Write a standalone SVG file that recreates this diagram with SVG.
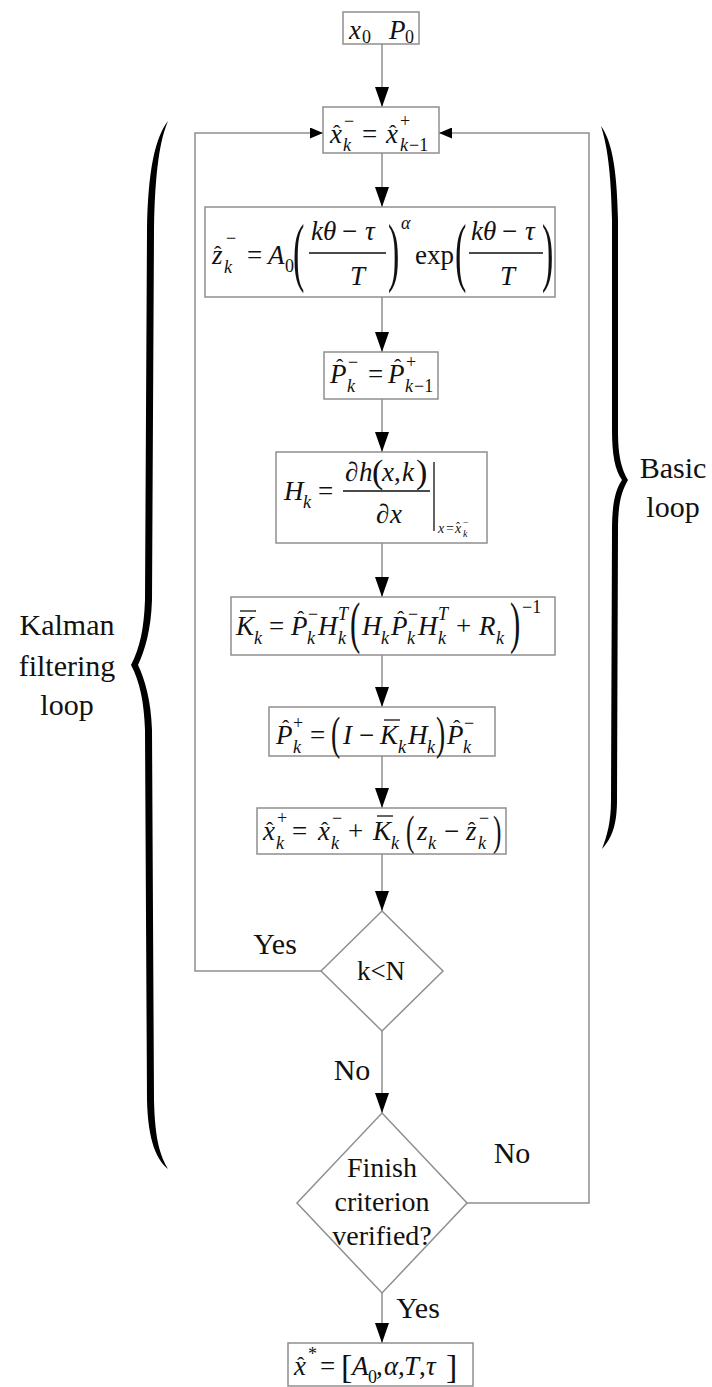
<svg xmlns="http://www.w3.org/2000/svg" width="712" height="1387" viewBox="0 0 712 1387" font-family="'Liberation Serif', 'DejaVu Serif', serif">
<defs>
<style>
.b{fill:#fff;stroke:#8f8f8f;stroke-width:1.5}
.c{fill:none;stroke:#8f8f8f;stroke-width:1.5}
.t{font-family:"Liberation Serif","Times New Roman","DejaVu Serif",serif;fill:#111}
.e{font-size:27px}
.i{font-style:italic}
.s{font-size:18px}
.ss{font-size:14px}
.h{font-size:22px}
.l{font-size:30px}
.ob{stroke:#111;stroke-width:1.3}
.br{fill:#000}
</style>
<marker id="av" viewBox="0 0 20 14" markerWidth="20" markerHeight="14" refX="20" refY="7" orient="auto" markerUnits="userSpaceOnUse"><path d="M0,0L20,7L0,14Z" fill="#000"/></marker>
<marker id="ah" viewBox="0 0 13 11" markerWidth="13" markerHeight="11" refX="13" refY="5.5" orient="auto" markerUnits="userSpaceOnUse"><path d="M0,0L13,5.5L0,11Z" fill="#000"/></marker>
</defs>
<rect width="712" height="1387" fill="#fff"/>

<g id="connectors" class="c">
<path d="M382,44V107" marker-end="url(#av)"/>
<path d="M382,153V207" marker-end="url(#av)"/>
<path d="M382,297V352" marker-end="url(#av)"/>
<path d="M382,399V452" marker-end="url(#av)"/>
<path d="M382,543V597" marker-end="url(#av)"/>
<path d="M382,655V707" marker-end="url(#av)"/>
<path d="M382,756V808" marker-end="url(#av)"/>
<path d="M382,854V911" marker-end="url(#av)"/>
<path d="M382,1031V1113" marker-end="url(#av)"/>
<path d="M382,1293V1343" marker-end="url(#av)"/>
<path d="M321,971H195V133H323" marker-end="url(#ah)"/>
<path d="M467,1203H589V133H439" marker-end="url(#ah)"/>
</g>

<g id="n-init">
<rect class="b" x="343" y="12" width="76" height="32"/>
<text class="t e"><tspan class="i" x="349" y="39">x</tspan><tspan class="s" x="362" y="43">0</tspan><tspan class="i" x="389" y="39">P</tspan><tspan class="s" x="405" y="43">0</tspan></text>
</g>

<g id="n-xpred">
<rect class="b" x="323" y="107" width="116" height="46"/>
<text class="t e"><tspan class="i" x="330" y="143">x</tspan><tspan class="h" x="333" y="140">ˆ</tspan><tspan class="s" x="344" y="127">−</tspan><tspan class="s i" x="343" y="151">k</tspan><tspan x="362" y="143">=</tspan><tspan class="i" x="386" y="143">x</tspan><tspan class="h" x="389" y="140">ˆ</tspan><tspan class="s" x="400" y="127">+</tspan><tspan class="s i" x="400" y="151">k</tspan><tspan class="s" x="409" y="151">−1</tspan></text>
</g>

<g id="n-zpred">
<rect class="b" x="205" y="207" width="350" height="90"/>
<text class="t e"><tspan class="i" x="212" y="264">z</tspan><tspan class="h" x="214" y="261">ˆ</tspan><tspan class="s" x="226" y="244">−</tspan><tspan class="s i" x="224" y="273">k</tspan><tspan x="247" y="264">=</tspan><tspan class="i" x="268" y="264">A</tspan><tspan class="s" x="285" y="272">0</tspan><tspan class="i" x="311" y="240">kθ</tspan><tspan x="342" y="240">−</tspan><tspan class="i" x="365" y="240">τ</tspan><tspan class="i" x="350" y="285">T</tspan><tspan class="s i" x="401" y="229">α</tspan><tspan x="415" y="264">exp</tspan><tspan class="i" x="471" y="240">kθ</tspan><tspan x="502" y="240">−</tspan><tspan class="i" x="525" y="240">τ</tspan><tspan class="i" x="500" y="285">T</tspan></text>
<text class="t" font-size="76" transform="translate(293,277) scale(0.45,1)">(</text>
<text class="t" font-size="76" transform="translate(388,277) scale(0.45,1)">)</text>
<text class="t" font-size="76" transform="translate(455,277) scale(0.45,1)">(</text>
<text class="t" font-size="76" transform="translate(542,277) scale(0.45,1)">)</text>
<path class="ob" d="M309,253H386M469,253H543"/>
</g>

<g id="n-ppred">
<rect class="b" x="324" y="352" width="114" height="47"/>
<text class="t e"><tspan class="i" x="330" y="383">P</tspan><tspan class="h" x="336" y="374">ˆ</tspan><tspan class="s" x="348" y="368">−</tspan><tspan class="s i" x="347" y="392">k</tspan><tspan x="368" y="383">=</tspan><tspan class="i" x="388" y="383">P</tspan><tspan class="h" x="394" y="374">ˆ</tspan><tspan class="s" x="406" y="368">+</tspan><tspan class="s i" x="405" y="392">k</tspan><tspan class="s" x="414" y="392">−1</tspan></text>
</g>

<g id="n-H">
<rect class="b" x="276" y="452" width="211" height="91"/>
<text class="t e"><tspan class="i" x="284" y="500">H</tspan><tspan class="s i" x="303" y="508">k</tspan><tspan x="318" y="500">=</tspan><tspan x="345" y="481">∂</tspan><tspan class="i" x="359" y="481">h</tspan><tspan x="382" y="481" class="i">x</tspan><tspan x="394" y="481">,</tspan><tspan class="i" x="402" y="481">k</tspan><tspan x="376" y="523">∂</tspan><tspan class="i" x="390" y="523">x</tspan></text>
<text class="t" font-size="34"><tspan x="372" y="483">(</tspan><tspan x="416" y="483">)</tspan></text>
<path class="ob" d="M343,491H430M434,462V531"/>
<text class="t ss"><tspan class="i" x="438" y="533">x</tspan><tspan x="446" y="533">=</tspan><tspan class="i" x="455" y="533">x</tspan><tspan font-size="12" x="456" y="531">ˆ</tspan><tspan class="i" font-size="10" x="463" y="537">k</tspan><tspan font-size="10" x="463" y="526">−</tspan></text>
</g>

<g id="n-K">
<rect class="b" x="231" y="597" width="324" height="58"/>
<text class="t e"><tspan class="i" x="236" y="635">K</tspan><tspan class="s i" x="254" y="644">k</tspan><tspan x="269" y="635">=</tspan><tspan class="i" x="291" y="635">P</tspan><tspan class="h" x="297" y="626">ˆ</tspan><tspan class="s" x="308" y="620">−</tspan><tspan class="s i" x="307" y="644">k</tspan><tspan class="i" x="318" y="635">H</tspan><tspan class="s i" x="338" y="620">T</tspan><tspan class="s i" x="338" y="644">k</tspan><tspan class="i" x="362" y="635">H</tspan><tspan class="s i" x="381" y="644">k</tspan><tspan class="i" x="391" y="635">P</tspan><tspan class="h" x="397" y="626">ˆ</tspan><tspan class="s" x="408" y="620">−</tspan><tspan class="s i" x="407" y="644">k</tspan><tspan class="i" x="418" y="635">H</tspan><tspan class="s i" x="438" y="620">T</tspan><tspan class="s i" x="438" y="644">k</tspan><tspan x="456" y="635">+</tspan><tspan class="i" x="479" y="635">R</tspan><tspan class="s i" x="496" y="644">k</tspan><tspan class="s" x="522" y="613">−1</tspan></text>
<text class="t" font-size="56" transform="translate(350,642) scale(0.55,1)">(</text>
<text class="t" font-size="56" transform="translate(510,642) scale(0.55,1)">)</text>
<path class="ob" d="M240,611H256"/>
</g>

<g id="n-Pupd">
<rect class="b" x="269" y="707" width="226" height="49"/>
<text class="t e"><tspan class="i" x="276" y="744">P</tspan><tspan class="h" x="282" y="735">ˆ</tspan><tspan class="s" x="293" y="729">+</tspan><tspan class="s i" x="293" y="753">k</tspan><tspan x="310" y="744">=</tspan><tspan class="i" x="343" y="744">I</tspan><tspan x="359" y="744">−</tspan><tspan class="i" x="380" y="744">K</tspan><tspan class="s i" x="398" y="753">k</tspan><tspan class="i" x="408" y="744">H</tspan><tspan class="s i" x="427" y="753">k</tspan><tspan class="i" x="447" y="744">P</tspan><tspan class="h" x="453" y="735">ˆ</tspan><tspan class="s" x="464" y="729">−</tspan><tspan class="s i" x="463" y="753">k</tspan></text>
<text class="t" font-size="46" transform="translate(331,749) scale(0.6,1)">(</text>
<text class="t" font-size="46" transform="translate(436,749) scale(0.6,1)">)</text>
<path class="ob" d="M384,720H400"/>
</g>

<g id="n-xupd">
<rect class="b" x="257" y="808" width="249" height="46"/>
<text class="t e"><tspan class="i" x="263" y="840">x</tspan><tspan class="h" x="266" y="837">ˆ</tspan><tspan class="s" x="277" y="824">+</tspan><tspan class="s i" x="276" y="849">k</tspan><tspan x="292" y="840">=</tspan><tspan class="i" x="318" y="840">x</tspan><tspan class="h" x="321" y="837">ˆ</tspan><tspan class="s" x="332" y="824">−</tspan><tspan class="s i" x="331" y="849">k</tspan><tspan x="348" y="840">+</tspan><tspan class="i" x="373" y="840">K</tspan><tspan class="s i" x="391" y="849">k</tspan><tspan class="i" x="417" y="840">z</tspan><tspan class="s i" x="428" y="849">k</tspan><tspan x="444" y="840">−</tspan><tspan class="i" x="466" y="840">z</tspan><tspan class="h" x="468" y="837">ˆ</tspan><tspan class="s" x="479" y="824">−</tspan><tspan class="s i" x="478" y="849">k</tspan></text>
<text class="t" font-size="42" transform="translate(406,845) scale(0.6,1)">(</text>
<text class="t" font-size="42" transform="translate(493,845) scale(0.6,1)">)</text>
<path class="ob" d="M377,816H393"/>
</g>

<g id="n-kN">
<path class="b" d="M382,911L443,971L382,1031L321,971Z"/>
<text class="t" font-size="27" x="381" y="980" text-anchor="middle">k&lt;N</text>
</g>

<g id="n-finish">
<path class="b" d="M382,1113L467,1203L382,1293L297,1203Z"/>
<text class="t" font-size="28" text-anchor="middle"><tspan x="382" y="1177">Finish</tspan><tspan x="382" y="1211">criterion</tspan><tspan x="382" y="1245">verified?</tspan></text>
</g>

<g id="n-result">
<rect class="b" x="288" y="1343" width="185" height="43"/>
<text class="t e"><tspan class="i" x="294" y="1375">x</tspan><tspan class="h" x="297" y="1372">ˆ</tspan><tspan class="s" x="308" y="1360">*</tspan><tspan x="320" y="1375">=</tspan><tspan class="i" x="352" y="1375">A</tspan><tspan class="s" x="368" y="1383">0</tspan><tspan x="376" y="1375">,</tspan><tspan class="i" x="384" y="1375">α</tspan><tspan x="398" y="1375">,</tspan><tspan class="i" x="404" y="1375">T</tspan><tspan x="419" y="1375">,</tspan><tspan class="i" x="426" y="1375">τ</tspan></text>
<text class="t" font-size="34"><tspan x="341" y="1378">[</tspan><tspan x="446" y="1378">]</tspan></text>
</g>

<g id="labels" class="t l" text-anchor="middle">
<text x="275" y="954">Yes</text>
<text x="352" y="1080">No</text>
<text x="512" y="1163">No</text>
<text x="418" y="1318">Yes</text>
</g>

<g id="brace-kalman">
<path class="br" d="M168,121C160,140 155,170 154,230L152,600C151,630 145,650 138,665C145,680 151,700 152,730L154,1100C155,1140 160,1155 168,1169C157,1160 148,1142 147,1100L145,730C144,702 140,682 131,665C140,648 144,628 145,600L147,230C148,170 155,138 168,121Z"/>
<text class="t l" text-anchor="middle"><tspan x="67" y="635">Kalman</tspan><tspan x="67" y="676">filtering</tspan><tspan x="67" y="715">loop</tspan></text>
</g>

<g id="brace-basic">
<path class="br" d="M601,126C611,140 617,165 618,220L618,430C618,455 621,468 628,480C621,492 618,505 618,530L617,800C617,825 612,838 602,849C607,836 611,822 611,800L612,530C612,505 615,490 622,480C615,470 612,455 612,430L612,220C611,170 607,145 601,126Z"/>
<text class="t l" text-anchor="middle"><tspan x="673" y="478">Basic</tspan><tspan x="673" y="517">loop</tspan></text>
</g>
</svg>
